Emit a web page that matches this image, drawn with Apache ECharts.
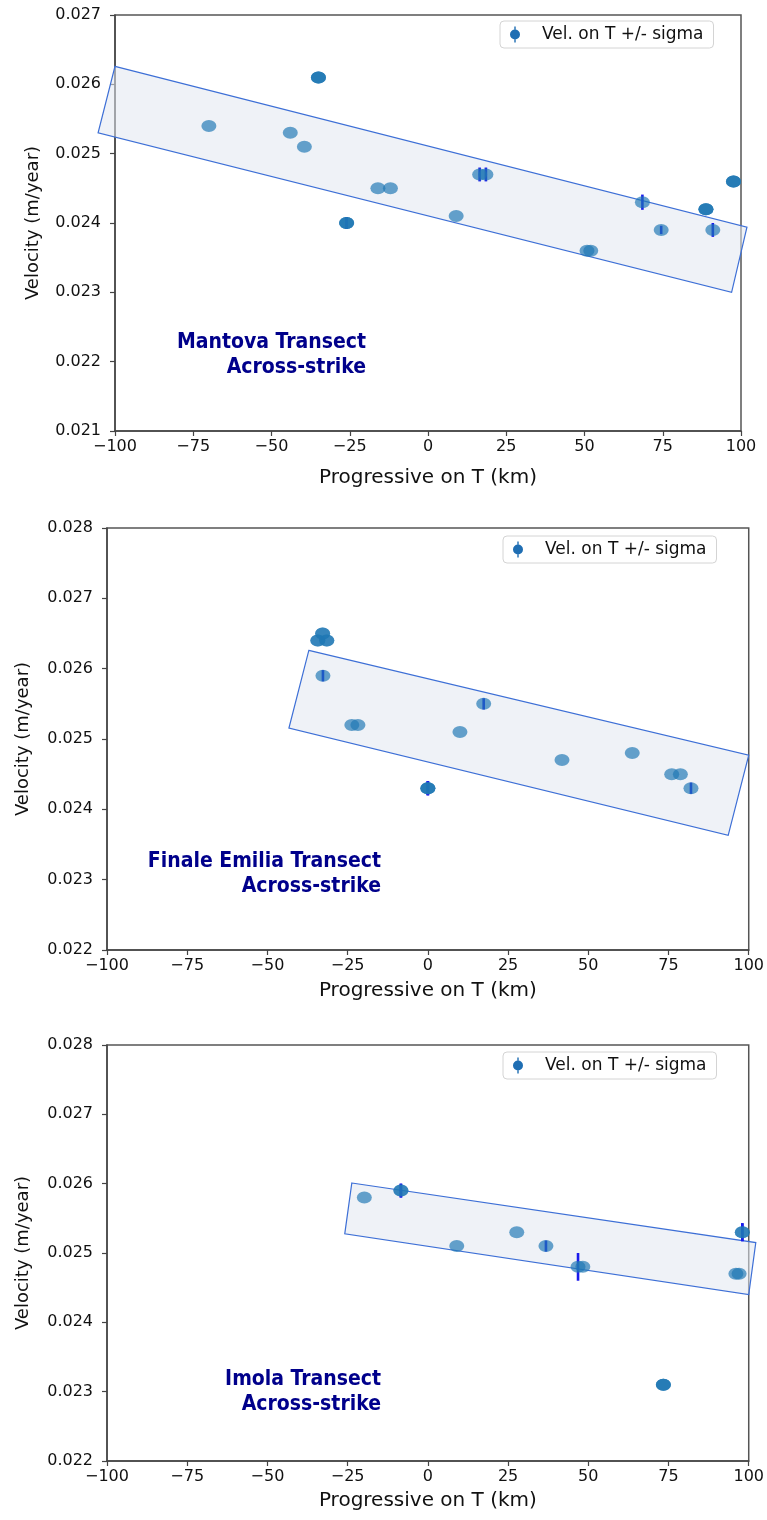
<!DOCTYPE html>
<html>
<head>
<meta charset="utf-8">
<script src="https://cdn.jsdelivr.net/npm/echarts@6/dist/echarts.min.js"></script>
<style>
  html, body { margin: 0; background: #fff; }
  #main { width: 767px; height: 1520px; }
</style>
</head>
<body>
<div id="main"></div>
<script>
// Mantova transect (overlapping stations repeated)
const mantovaX = [-70, -44, -39.5, -35, -35, -35, -26, -26, -26, -16, -12, 9, 16.5, 18.5, 50.8, 52, 68.5, 74.5, 88.8, 88.8, 88.8, 91, 97.6, 97.6, 97.6];
const mantovaV = [0.0254, 0.0253, 0.0251, 0.0261, 0.0261, 0.0261, 0.0240, 0.0240, 0.0240, 0.0245, 0.0245, 0.0241, 0.0247, 0.0247, 0.0236, 0.0236, 0.0243, 0.0239, 0.0242, 0.0242, 0.0242, 0.0239, 0.0246, 0.0246, 0.0246];
// sigma below marker size read as 0
const mantovaSigma = [0, 0, 0, 0, 0, 0, 0.00008, 0.00008, 0.00008, 0, 0, 0, 0.0001, 0.0001, 0, 0, 0.00011, 0.00006, 0, 0, 0, 0.0001, 0, 0, 0];
const mantovaBand = [[-100, 0.02626], [101.9, 0.02394], [97, 0.0230], [-105.4, 0.0253]];

// Finale Emilia transect
const finaleX = [-34.3, -34.3, -31.5, -31.5, -32.8, -32.8, -32.7, -23.7, -21.8, 0, 0, 0, 10, 17.4, 41.8, 63.7, 76, 78.7, 82];
const finaleV = [0.0264, 0.0264, 0.0264, 0.0264, 0.0265, 0.0265, 0.0259, 0.0252, 0.0252, 0.0243, 0.0243, 0.0243, 0.0251, 0.0255, 0.0247, 0.0248, 0.0245, 0.0245, 0.0243];
const finaleSigma = [0, 0, 0, 0, 0, 0, 0.00008, 0, 0, 0.0001, 0.0001, 0.0001, 0, 0.00008, 0, 0, 0, 0, 0.00008];
const finaleBand = [[-37.1, 0.02626], [100, 0.02477], [93.6, 0.02363], [-43.3, 0.025156]];

// Imola transect
const imolaX = [-19.8, -8.4, -8.4, 9, 27.7, 36.8, 46.8, 48.3, 73.4, 73.4, 73.4, 96, 97, 98, 98];
const imolaV = [0.0258, 0.0259, 0.0259, 0.0251, 0.0253, 0.0251, 0.0248, 0.0248, 0.0231, 0.0231, 0.0231, 0.0247, 0.0247, 0.0253, 0.0253];
const imolaSigma = [0, 0.0001, 0.0001, 0, 0, 0.00008, 0.0002, 0, 0, 0, 0, 0, 0, 0.00013, 0.00013];
const imolaBand = [[-23.7, 0.02601], [102.2, 0.02515], [100, 0.0244], [-25.9, 0.025276]];

const xTickRange = [-100, 100, 25];
const seriesName = 'Vel. on T +/- sigma';
const xTitle = 'Progressive on T (km)';
const yTitle = 'Velocity (m/year)';

const panels = [
  { grid: { left: 115, top: 15, width: 626, height: 416 }, yMin: 0.021, yMax: 0.027,
    xs: mantovaX, vs: mantovaV, sig: mantovaSigma, band: mantovaBand,
    text: ['Mantova Transect', 'Across-strike'], textRight: 366, textY: 343,
    xNameGap: 37, yNameGap: 73, legendTop: 21, legendLeft: 500 },
  { grid: { left: 107, top: 528, width: 642, height: 422 }, yMin: 0.022, yMax: 0.028,
    xs: finaleX, vs: finaleV, sig: finaleSigma, band: finaleBand,
    text: ['Finale Emilia Transect', 'Across-strike'], textRight: 381, textY: 862,
    xNameGap: 31, yNameGap: 75, legendTop: 536, legendLeft: 503 },
  { grid: { left: 107, top: 1045, width: 642, height: 416 }, yMin: 0.022, yMax: 0.028,
    xs: imolaX, vs: imolaV, sig: imolaSigma, band: imolaBand,
    text: ['Imola Transect', 'Across-strike'], textRight: 381, textY: 1380,
    xNameGap: 30, yNameGap: 75, legendTop: 1052, legendLeft: 503 }
];

const chart = echarts.init(document.getElementById('main'));

const grids = [], xAxes = [], yAxes = [], series = [], legends = [], graphics = [];
const axisColor = '#444';

panels.forEach(function (p, i) {
  grids.push(Object.assign({ show: true, borderColor: '#555', borderWidth: 1.5, backgroundColor: 'transparent' }, p.grid));
  xAxes.push({
    gridIndex: i, type: 'value', min: xTickRange[0], max: xTickRange[1], interval: xTickRange[2],
    name: xTitle, nameLocation: 'middle', nameGap: p.xNameGap,
    nameTextStyle: { fontFamily: 'DejaVu Sans', fontSize: 20, color: '#111' },
    axisLine: { onZero: false, lineStyle: { color: axisColor, width: 1.5 } },
    axisTick: { lineStyle: { color: axisColor, width: 1.2 }, length: 5 },
    axisLabel: { fontFamily: 'DejaVu Sans', fontSize: 16, color: '#111', margin: 8,
      formatter: function (v) { return String(v).replace('-', '\u2212'); } },
    splitLine: { show: false }
  });
  yAxes.push({
    gridIndex: i, type: 'value', min: p.yMin, max: p.yMax, interval: 0.001,
    name: yTitle, nameLocation: 'middle', nameGap: p.yNameGap,
    nameTextStyle: { fontFamily: 'DejaVu Sans', fontSize: 18, color: '#111' },
    axisLine: { show: true, onZero: false, lineStyle: { color: axisColor, width: 1.5 } },
    axisTick: { show: true, lineStyle: { color: axisColor, width: 1.2 }, length: 5 },
    axisLabel: { fontFamily: 'DejaVu Sans', fontSize: 16, color: '#111', margin: 14,
      formatter: function (v) { return v.toFixed(3); } },
    splitLine: { show: false }
  });

  // shaded band
  const band = p.band;
  series.push({
    type: 'custom', xAxisIndex: i, yAxisIndex: i, z: 1, silent: true, clip: false,
    data: [0],
    renderItem: function (params, api) {
      return {
        type: 'polygon',
        shape: { points: band.map(function (c) { return api.coord(c); }) },
        style: { fill: 'rgba(226,231,240,0.55)', stroke: '#3d6fd6', lineWidth: 1.2 }
      };
    }
  });

  // error bars (only where sigma is visible)
  series.push({
    type: 'custom', xAxisIndex: i, yAxisIndex: i, z: 2, silent: true,
    data: p.xs.map(function (x, k) { return [x, p.vs[k] - p.sig[k], p.vs[k] + p.sig[k]]; })
      .filter(function (d) { return d[2] > d[1]; }),
    encode: { x: 0, y: [1, 2] },
    renderItem: function (params, api) {
      const a = api.coord([api.value(0), api.value(1)]);
      const b = api.coord([api.value(0), api.value(2)]);
      return { type: 'line', shape: { x1: a[0], y1: a[1], x2: b[0], y2: b[1] },
        style: { stroke: '#1a1aec', lineWidth: 2.6 } };
    }
  });

  // points
  series.push({
    name: seriesName, type: 'scatter', xAxisIndex: i, yAxisIndex: i, z: 3,
    symbol: 'circle', symbolSize: [15, 12],
    itemStyle: { color: '#1f77b4', opacity: 0.68 },
    data: p.xs.map(function (x, k) { return [x, p.vs[k]]; })
  });

  legends.push({
    left: p.legendLeft, top: p.legendTop, orient: 'vertical', selectedMode: false,
    backgroundColor: '#fff', borderColor: '#d4d4d4', borderWidth: 1, borderRadius: 4,
    padding: [5, 10, 5, 10], itemWidth: 44, itemHeight: 16,
    textStyle: { fontFamily: 'DejaVu Sans', fontSize: 17, color: '#111' },
    data: [{ name: seriesName,
      icon: 'path://M5.3,0 L6.7,0 L6.7,16 L5.3,16 Z M6,3 A5,5 0 1 1 5.99,3 Z',
      itemStyle: { color: '#1f6eb3', opacity: 1 } }]
  });

  const font = 'bold 21px "DejaVu Sans Condensed", "DejaVu Sans"';
  graphics.push({
    type: 'text', x: p.textRight, y: p.textY,
    style: { text: p.text[0], align: 'right', verticalAlign: 'middle', font: font, fill: '#00008b' }
  });
  graphics.push({
    type: 'text', x: p.textRight, y: p.textY + 25,
    style: { text: p.text[1], align: 'right', verticalAlign: 'middle', font: font, fill: '#00008b' }
  });
});

chart.setOption({
  backgroundColor: '#fff',
  animation: false,
  grid: grids,
  xAxis: xAxes,
  yAxis: yAxes,
  legend: legends,
  graphic: graphics,
  series: series
});
window.addEventListener('resize', function () { chart.resize(); });
</script>
</body>
</html>
